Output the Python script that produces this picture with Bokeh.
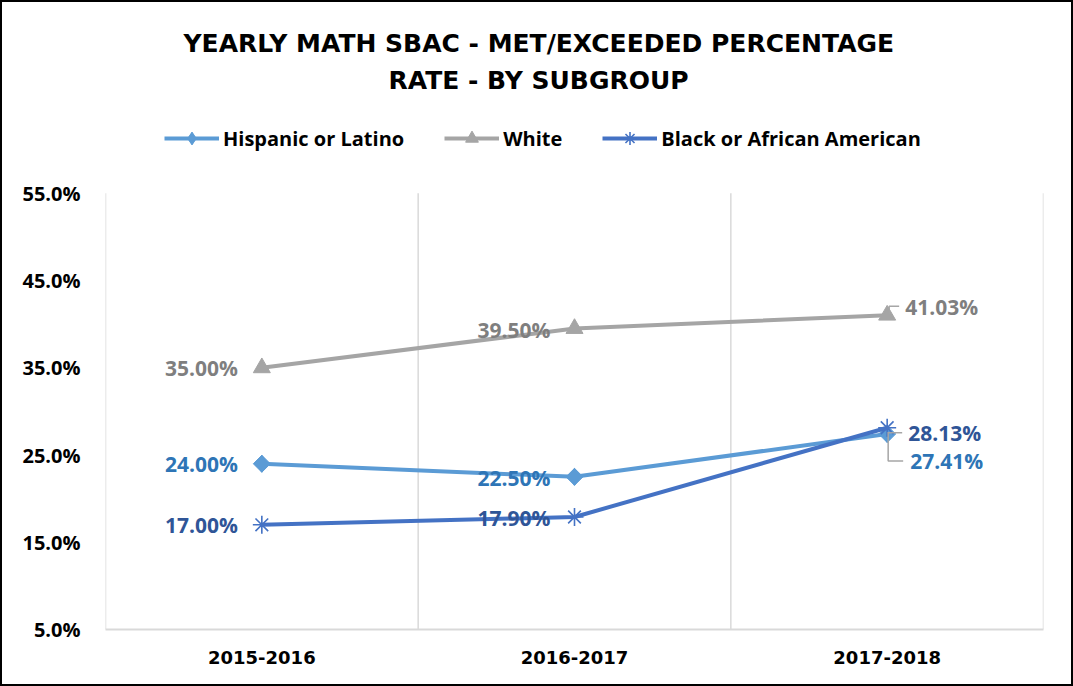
from bokeh.plotting import figure
from bokeh.layouts import column
from bokeh.models import (Range1d, FixedTicker, Legend, LegendItem, Title,
                          ColumnDataSource)
from bokeh.core.properties import value
from bokeh.embed import file_html
from bokeh.resources import INLINE

# ---- data ----
categories = ["2015-2016", "2016-2017", "2017-2018"]
hispanic = [24.00, 22.50, 27.41]
white = [35.00, 39.50, 41.03]
black = [17.00, 17.90, 28.13]
y_ticks = [5, 15, 25, 35, 45, 55]
y_tick_labels = ["5.0%", "15.0%", "25.0%", "35.0%", "45.0%", "55.0%"]

FONT = "Open Sans"
WIDE = "DejaVu Sans"
x = [i + 0.5 for i in range(len(categories))]

# the frame extends above the 55% line to hold the legend
y_top = 66.1

p = figure(width=1069, height=682, x_range=Range1d(0, len(categories)),
           y_range=Range1d(y_ticks[0], y_top),
           output_backend="svg", toolbar_location=None,
           min_border_left=103, min_border_right=28, min_border_bottom=55,
           min_border_top=94)
p.title.visible = False
p.outline_line_color = None
p.background_fill_color = "white"
p.border_fill_color = "white"

# category boundary grid lines (only between 5% and 55%)
bounds = list(range(len(categories) + 1))
p.xgrid.visible = False
p.ygrid.visible = False
p.segment(x0=bounds, y0=[y_ticks[0]] * len(bounds), x1=bounds,
          y1=[y_ticks[-1]] * len(bounds), line_color="#D9D9D9", line_width=1.5)

# x axis
p.xaxis.ticker = FixedTicker(ticks=x)
p.xaxis.major_label_overrides = {xi: c for xi, c in zip(x, categories)}
p.xaxis.axis_line_color = "#D9D9D9"
p.xaxis.axis_line_width = 2
p.xaxis.major_tick_line_color = None
p.xaxis.minor_tick_line_color = None
p.xaxis.major_tick_out = 0
p.xaxis.major_label_standoff = 21
p.xaxis.major_label_text_font = WIDE
p.xaxis.major_label_text_font_style = "bold"
p.xaxis.major_label_text_font_size = "18px"
p.xaxis.major_label_text_color = "black"

# y axis
p.yaxis.ticker = FixedTicker(ticks=y_ticks)
p.yaxis.major_label_overrides = {t: l for t, l in zip(y_ticks, y_tick_labels)}
p.yaxis.axis_line_color = None
p.yaxis.major_tick_line_color = None
p.yaxis.minor_tick_line_color = None
p.yaxis.major_tick_out = 0
p.yaxis.major_label_standoff = 25
p.yaxis.major_label_text_font = FONT
p.yaxis.major_label_text_font_style = "bold"
p.yaxis.major_label_text_font_size = "20px"
p.yaxis.major_label_text_color = "black"

series = [
    ("Hispanic or Latino", hispanic, "#5B9BD5", "#2E75B6"),
    ("White", white, "#A5A5A5", "#7F7F7F"),
    ("Black or African American", black, "#4472C4", "#2F5597"),
]

# label placements (pixel offsets relative to point, +dy = down): (dx, dy, align)
label_pos = {
    "Hispanic or Latino": [(-24, 0, "right"), (-24, 1, "right"), (23, 27, "left")],
    "White": [(-24, 0, "right"), (-24, 1, "right"), (18, -8, "left")],
    "Black or African American": [(-24, 0, "right"), (-24, 1, "right"), (21, 5, "left")],
}

legend_items = []
for name, vals, lc, tc in series:
    src = ColumnDataSource(dict(x=x, y=vals))
    ln = p.line("x", "y", source=src, line_color=lc, line_width=4)
    if name == "Hispanic or Latino":
        # diamond (shown in legend) under a rotated square (shown on the plot)
        lg = p.scatter("x", "y", source=src, marker="diamond", size=17,
                       fill_color=lc, line_color=lc)
        p.scatter("x", "y", source=src, marker="square", angle=0.785398,
                  size=12, fill_color=lc, line_color=lc)
    elif name == "White":
        lg = p.scatter("x", "y", source=src, marker="triangle", size=17,
                       fill_color=lc, line_color=lc)
    else:
        lg = p.scatter("x", "y", source=src, marker="asterisk", size=18,
                       fill_color=None, line_color=lc, line_width=1.6)
    legend_items.append(LegendItem(label=name, renderers=[ln, lg]))

# leader lines for last-category labels (grey)
px_x = len(categories) / 938.0
px_y = (y_ticks[-1] - y_ticks[0]) / 436.0
xl = x[-1]
lead_xs = [
    [xl + 2 * px_x, xl + 2 * px_x, xl + 12 * px_x],
    [xl + 1 * px_x, xl + 15 * px_x],
    [xl + 1 * px_x, xl + 1 * px_x, xl + 16 * px_x],
]
lead_ys = [
    [white[-1] + 1 * px_y, white[-1] + 9 * px_y, white[-1] + 9 * px_y],
    [black[-1] - 5 * px_y, black[-1] - 5 * px_y],
    [hispanic[-1] + 2 * px_y, hispanic[-1] - 27 * px_y, hispanic[-1] - 27 * px_y],
]
p.multi_line(lead_xs, lead_ys, line_color="#A6A6A6", line_width=1.5)

for name, vals, lc, tc in series:
    for i, v in enumerate(vals):
        dx, dy, al = label_pos[name][i]
        p.text([x[i]], [v], text=[f"{v:.2f}%"], x_offset=dx, y_offset=dy,
               text_align=al, text_baseline="middle",
               text_font=value(FONT), text_font_style="bold",
               text_font_size="21px", text_color=tc)

legend = Legend(items=legend_items, orientation="horizontal", location=(59, 475),
                glyph_width=55, glyph_height=32, label_standoff=4, spacing=40,
                label_text_font=FONT, label_text_font_style="bold",
                label_text_font_size="20px", label_text_color="black",
                border_line_color=None, background_fill_alpha=0,
                padding=0, margin=0)
p.add_layout(legend, "center")

t2 = Title(text="RATE - BY SUBGROUP", align="left", offset=283, text_font=WIDE,
           text_font_style="bold", text_font_size="25px", text_color="black",
           standoff=3)
t1 = Title(text="YEARLY MATH SBAC - MET/EXCEEDED PERCENTAGE", align="left",
           offset=78, text_font=WIDE, text_font_style="bold",
           text_font_size="25px", text_color="black", standoff=9)
p.add_layout(t2, "above")
p.add_layout(t1, "above")

layout = column(p, styles={"border": "2px solid black"})

open("out.html", "w").write(file_html(layout, INLINE))
